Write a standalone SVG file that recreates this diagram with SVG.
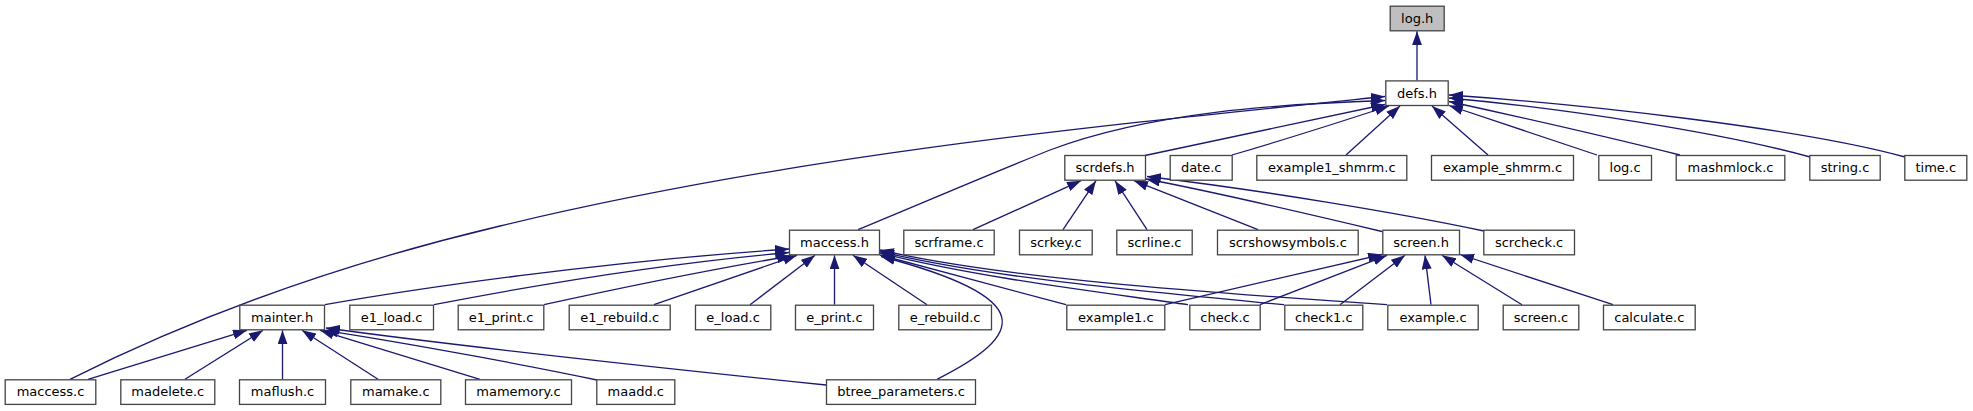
<svg xmlns="http://www.w3.org/2000/svg" width="1973" height="411" viewBox="0 0 1973 411">
<style>
.n rect{fill:#fff;stroke:#444;stroke-width:1.3}
.n text{font-family:"DejaVu Sans",sans-serif;font-size:13px;text-anchor:middle;fill:#000}
#log_h rect{fill:#bfbfbf}
.e path{fill:none;stroke:#191970;stroke-width:1.3;marker-end:url(#a)}
</style>
<defs>
<marker id="a" markerUnits="userSpaceOnUse" viewBox="0 0 14 10" markerWidth="14" markerHeight="10" refX="14" refY="5" orient="auto">
<path d="M0,0 L14,5 L0,10 z" fill="#191970"/>
</marker>
</defs>
<rect width="1973" height="411" fill="#fff"/>
<g class="e" id="edges">
<path d="M1417,80.4 L1417,31.3"/>
<path d="M70,379.3 C213,307.5 357,260 500,226 C795,155 1090,126.5 1385,96.5"/>
<path d="M858,229.7 C920,204 990,174 1050,150 C1150,112 1280,104 1385,100.5"/>
<path d="M1145,155.5 L1385,104.5"/>
<path d="M1232,155 C1280,141 1340,122 1389,106"/>
<path d="M1346,155 L1400,106"/>
<path d="M1488,155 L1432,106"/>
<path d="M1597,155 L1449,105.5"/>
<path d="M1680,155 C1620,140 1520,117 1449,101.5"/>
<path d="M1810,157 C1720,132 1560,108 1449,98"/>
<path d="M1905,157 C1800,128 1580,104 1449,95"/>
<path d="M973,229.7 L1081,180.7"/>
<path d="M1063,229.7 L1096,180.7"/>
<path d="M1147,229.7 L1115,180.7"/>
<path d="M1258,229.7 L1134,180.7"/>
<path d="M1382,231.5 C1300,212 1210,191 1146,179"/>
<path d="M1484,231 C1400,213 1260,190 1147,176.5"/>
<path d="M325,304.7 C420,288 600,262 789,249"/>
<path d="M434,304.7 C520,288 650,265 789,252.5"/>
<path d="M544,304.7 C620,288 720,268 791,256"/>
<path d="M654,304.7 L797,255.3"/>
<path d="M750,304.7 L815,255.3"/>
<path d="M834.5,304.7 L834.5,255.3"/>
<path d="M927,304.7 L853,255.3"/>
<path d="M937,379.3 C1025,335 1040,298 881,256.5"/>
<path d="M1066,304.7 L880,255"/>
<path d="M1188,304.7 C1100,292 980,278 880,253"/>
<path d="M1284,304.7 C1150,292 990,278 880,251.5"/>
<path d="M1387,304.7 C1200,292 1000,278 880,250"/>
<path d="M1165,304.7 L1382,254.5"/>
<path d="M1260,304.7 L1387,255.3"/>
<path d="M1340,304.7 L1405,255.3"/>
<path d="M1431,304.7 L1425,255.3"/>
<path d="M1522,304.7 L1442,255.3"/>
<path d="M1613,304.7 L1460,254.5"/>
<path d="M88,379.3 L247,330.3"/>
<path d="M185,379.3 L263,330.3"/>
<path d="M282.5,379.3 L282.5,330.3"/>
<path d="M378,379.3 L302,330.3"/>
<path d="M480,379.3 L320,330.3"/>
<path d="M597,380 C540,368 420,345 324,330.3"/>
<path d="M826,385 C700,372 450,345 326,328"/>
</g>
<g class="n" id="log_h"><rect x="1390.2" y="6.2" width="54" height="24.6"/><text x="1417.2" y="22.8">log.h</text></g>
<g class="n" id="defs_h"><rect x="1385.8" y="80.9" width="62.4" height="24.6"/><text x="1417" y="97.5">defs.h</text></g>
<g class="n" id="scrdefs_h"><rect x="1064.8" y="155.5" width="80.7" height="24.7"/><text x="1105.1" y="172.2">scrdefs.h</text></g>
<g class="n" id="date_c"><rect x="1170.2" y="155.5" width="62" height="24.7"/><text x="1201.2" y="172.2">date.c</text></g>
<g class="n" id="example1_shmrm_c"><rect x="1256.8" y="155.5" width="150" height="24.7"/><text x="1331.8" y="172.2">example1_shmrm.c</text></g>
<g class="n" id="example_shmrm_c"><rect x="1431.5" y="155.5" width="142" height="24.7"/><text x="1502.5" y="172.2">example_shmrm.c</text></g>
<g class="n" id="log_c"><rect x="1598.8" y="155.5" width="52.7" height="24.7"/><text x="1625.1" y="172.2">log.c</text></g>
<g class="n" id="mashmlock_c"><rect x="1676.2" y="155.5" width="108.6" height="24.7"/><text x="1730.5" y="172.2">mashmlock.c</text></g>
<g class="n" id="string_c"><rect x="1809.8" y="155.5" width="70.4" height="24.7"/><text x="1845" y="172.2">string.c</text></g>
<g class="n" id="time_c"><rect x="1904.8" y="155.5" width="62" height="24.7"/><text x="1935.8" y="172.2">time.c</text></g>
<g class="n" id="maccess_h"><rect x="789.5" y="230.2" width="90" height="24.6"/><text x="834.5" y="246.8">maccess.h</text></g>
<g class="n" id="scrframe_c"><rect x="903.8" y="230.2" width="90.4" height="24.6"/><text x="949" y="246.8">scrframe.c</text></g>
<g class="n" id="scrkey_c"><rect x="1019.5" y="230.2" width="72.7" height="24.6"/><text x="1055.9" y="246.8">scrkey.c</text></g>
<g class="n" id="scrline_c"><rect x="1116.8" y="230.2" width="75.4" height="24.6"/><text x="1154.5" y="246.8">scrline.c</text></g>
<g class="n" id="scrshowsymbols_c"><rect x="1217.5" y="230.2" width="140.7" height="24.6"/><text x="1287.9" y="246.8">scrshowsymbols.c</text></g>
<g class="n" id="screen_h"><rect x="1382.8" y="230.2" width="76.7" height="24.6"/><text x="1421.1" y="246.8">screen.h</text></g>
<g class="n" id="scrcheck_c"><rect x="1483.8" y="230.2" width="90.7" height="24.6"/><text x="1529.1" y="246.8">scrcheck.c</text></g>
<g class="n" id="mainter_h"><rect x="239.8" y="305.2" width="84.7" height="24.6"/><text x="282.1" y="321.8">mainter.h</text></g>
<g class="n" id="e1_load_c"><rect x="349.8" y="305.2" width="83.7" height="24.6"/><text x="391.6" y="321.8">e1_load.c</text></g>
<g class="n" id="e1_print_c"><rect x="458.2" y="305.2" width="85.6" height="24.6"/><text x="501" y="321.8">e1_print.c</text></g>
<g class="n" id="e1_rebuild_c"><rect x="569.2" y="305.2" width="101" height="24.6"/><text x="619.7" y="321.8">e1_rebuild.c</text></g>
<g class="n" id="e_load_c"><rect x="695.5" y="305.2" width="75.3" height="24.6"/><text x="733.1" y="321.8">e_load.c</text></g>
<g class="n" id="e_print_c"><rect x="795.5" y="305.2" width="78" height="24.6"/><text x="834.5" y="321.8">e_print.c</text></g>
<g class="n" id="e_rebuild_c"><rect x="898.8" y="305.2" width="92.7" height="24.6"/><text x="945.1" y="321.8">e_rebuild.c</text></g>
<g class="n" id="example1_c"><rect x="1066.8" y="305.2" width="98" height="24.6"/><text x="1115.8" y="321.8">example1.c</text></g>
<g class="n" id="check_c"><rect x="1189.8" y="305.2" width="70.4" height="24.6"/><text x="1225" y="321.8">check.c</text></g>
<g class="n" id="check1_c"><rect x="1284.8" y="305.2" width="78" height="24.6"/><text x="1323.8" y="321.8">check1.c</text></g>
<g class="n" id="example_c"><rect x="1387.8" y="305.2" width="90.4" height="24.6"/><text x="1433" y="321.8">example.c</text></g>
<g class="n" id="screen_c"><rect x="1503.2" y="305.2" width="75.6" height="24.6"/><text x="1541" y="321.8">screen.c</text></g>
<g class="n" id="calculate_c"><rect x="1603.5" y="305.2" width="91.7" height="24.6"/><text x="1649.3" y="321.8">calculate.c</text></g>
<g class="n" id="maccess_c"><rect x="5.2" y="379.8" width="90.6" height="24.6"/><text x="50.5" y="396.4">maccess.c</text></g>
<g class="n" id="madelete_c"><rect x="120.8" y="379.8" width="94" height="24.6"/><text x="167.8" y="396.4">madelete.c</text></g>
<g class="n" id="maflush_c"><rect x="239.5" y="379.8" width="86" height="24.6"/><text x="282.5" y="396.4">maflush.c</text></g>
<g class="n" id="mamake_c"><rect x="350.8" y="379.8" width="90" height="24.6"/><text x="395.8" y="396.4">mamake.c</text></g>
<g class="n" id="mamemory_c"><rect x="465.5" y="379.8" width="106" height="24.6"/><text x="518.5" y="396.4">mamemory.c</text></g>
<g class="n" id="maadd_c"><rect x="596.8" y="379.8" width="78" height="24.6"/><text x="635.8" y="396.4">maadd.c</text></g>
<g class="n" id="btree_parameters_c"><rect x="826.5" y="379.8" width="149" height="24.6"/><text x="901" y="396.4">btree_parameters.c</text></g>
</svg>
